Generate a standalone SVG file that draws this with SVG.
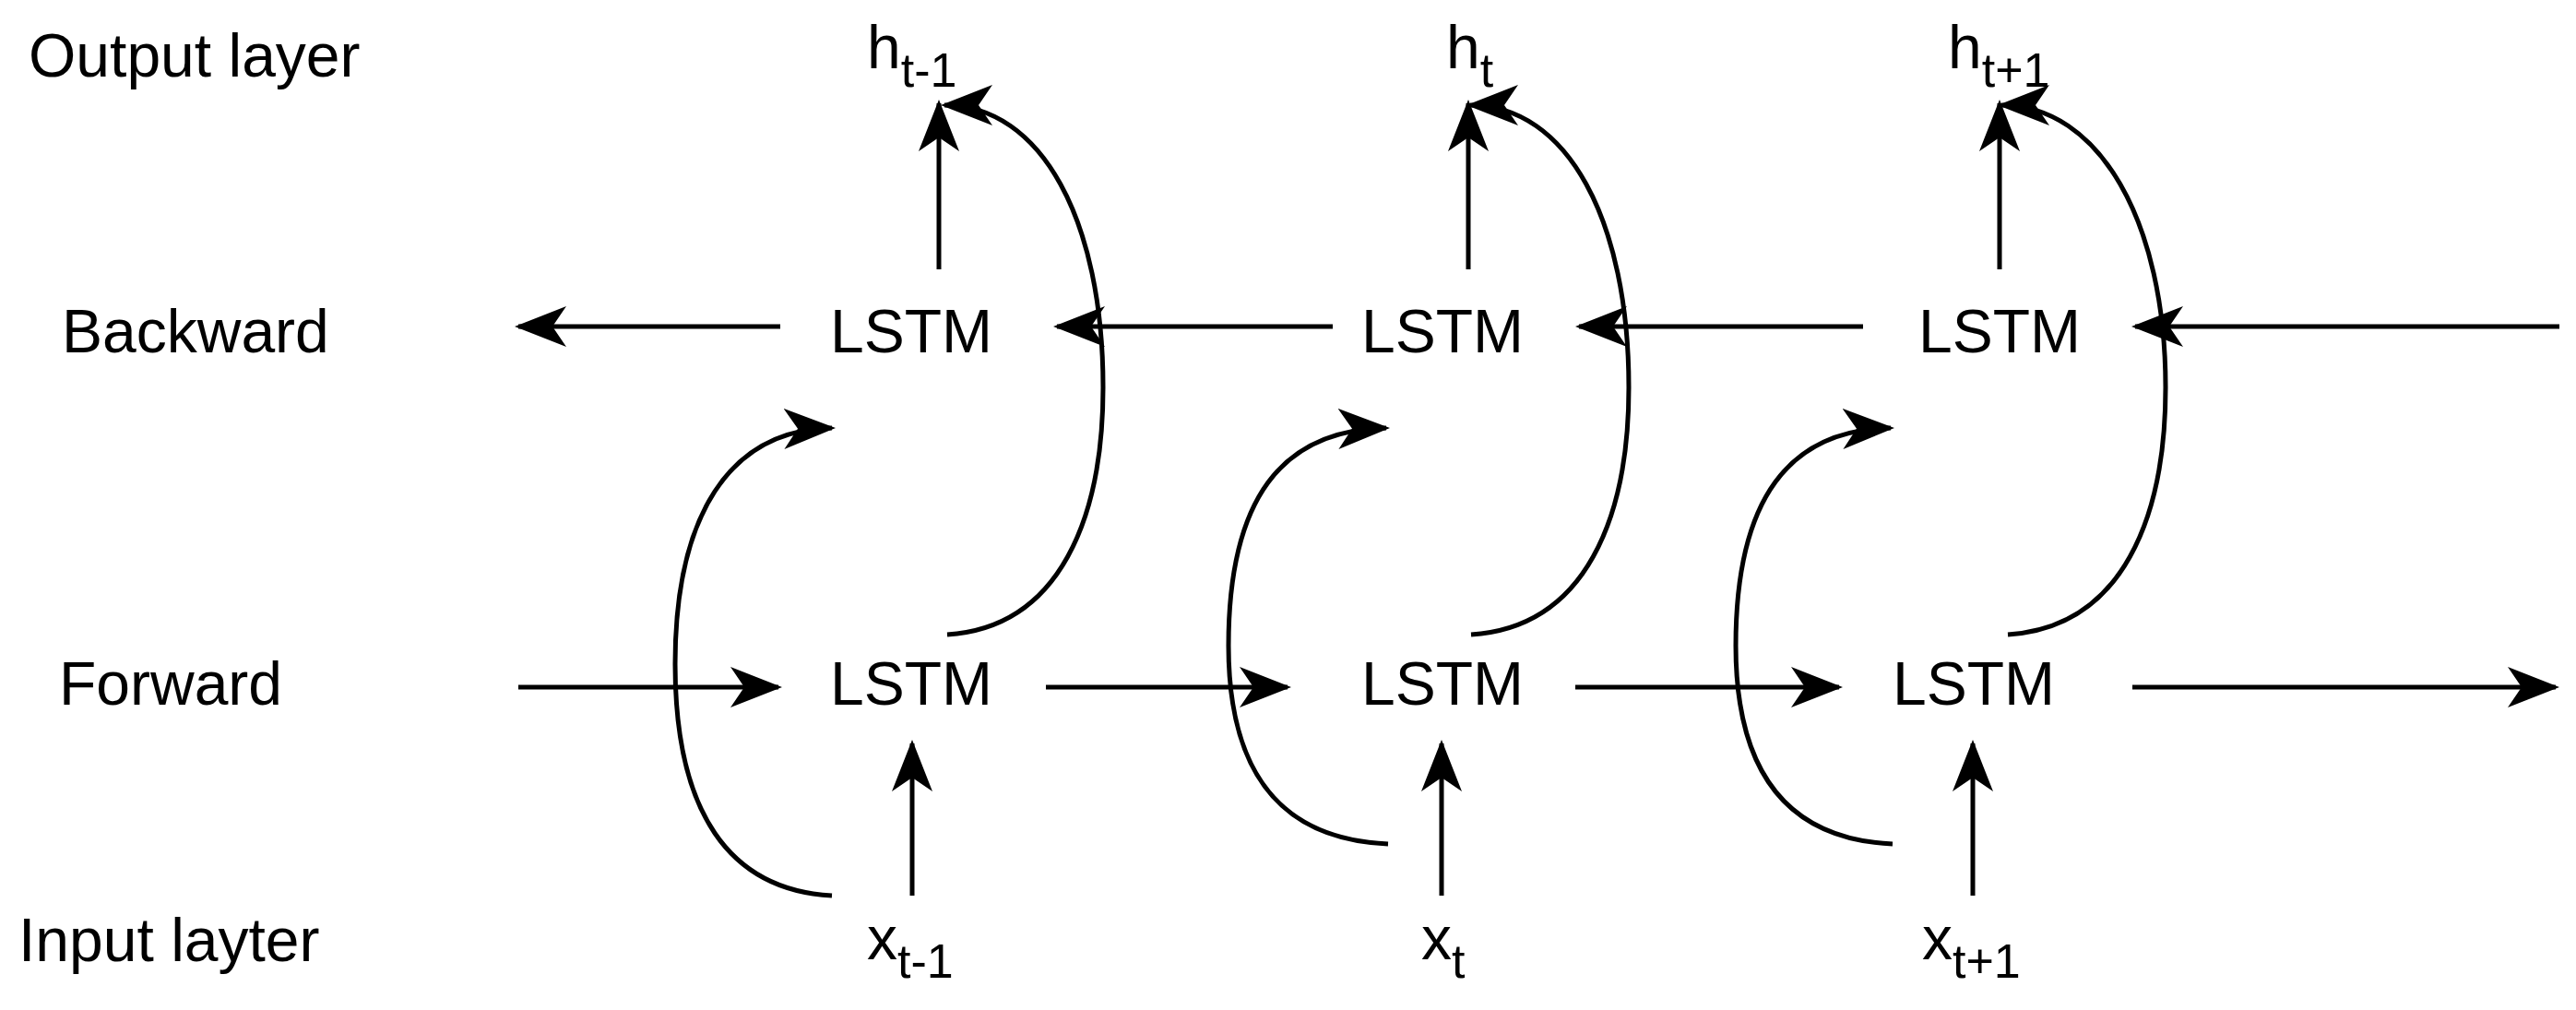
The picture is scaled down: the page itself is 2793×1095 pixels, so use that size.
<svg xmlns="http://www.w3.org/2000/svg" width="2793" height="1095" viewBox="0 0 2793 1095">
<style>
text{font-family:"Liberation Sans",Arial,sans-serif;font-size:66px;fill:#000}
.s{font-size:52px}
.c path,.c line{stroke:#000;stroke-width:5;fill:none;marker-end:url(#a)}
</style>
<defs>
<marker id="a" markerUnits="userSpaceOnUse" markerWidth="56" markerHeight="44" refX="52" refY="22" orient="auto" viewBox="0 0 56 44">
<path d="M0,0 L56,22 L0,44 L15,22 z" fill="#000"/>
</marker>
</defs>
<rect width="2793" height="1095" fill="#fff"/>
<g id="labels">
<text x="31" y="83">Output layer</text>
<text x="67" y="382">Backward</text>
<text x="64" y="764">Forward</text>
<text x="20" y="1042">Input layter</text>
</g>
<g id="h1"><text x="940" y="74">h<tspan class="s" dy="20">t-1</tspan></text></g>
<g id="h2"><text x="1568" y="74">h<tspan class="s" dy="20">t</tspan></text></g>
<g id="h3"><text x="2112" y="74">h<tspan class="s" dy="20">t+1</tspan></text></g>
<g id="b1"><text x="900" y="382">LSTM</text></g>
<g id="b2"><text x="1476" y="382">LSTM</text></g>
<g id="b3"><text x="2080" y="382">LSTM</text></g>
<g id="f1"><text x="900" y="764">LSTM</text></g>
<g id="f2"><text x="1476" y="764">LSTM</text></g>
<g id="f3"><text x="2052" y="764">LSTM</text></g>
<g id="x1"><text x="940" y="1040">x<tspan class="s" dy="20">t-1</tspan></text></g>
<g id="x2"><text x="1541" y="1040">x<tspan class="s" dy="20">t</tspan></text></g>
<g id="x3"><text x="2084" y="1040">x<tspan class="s" dy="20">t+1</tspan></text></g>
<g id="connectors" class="c">
<line x1="562" y1="745" x2="844" y2="745"/>
<line x1="1134" y1="745" x2="1396" y2="745"/>
<line x1="1708" y1="745" x2="1994" y2="745"/>
<line x1="2312" y1="745" x2="2771" y2="745"/>
<line x1="846" y1="354" x2="562" y2="354"/>
<line x1="1445" y1="354" x2="1146" y2="354"/>
<line x1="2020" y1="354" x2="1712" y2="354"/>
<line x1="2775" y1="354" x2="2315" y2="354"/>
<line x1="1018" y1="292" x2="1018" y2="112"/>
<line x1="1592" y1="292" x2="1592" y2="112"/>
<line x1="2168" y1="292" x2="2168" y2="112"/>
<line x1="989" y1="971" x2="989" y2="806"/>
<line x1="1563" y1="971" x2="1563" y2="806"/>
<line x1="2139" y1="971" x2="2139" y2="806"/>
<path d="M1027,688 C1150,680 1196,560 1196,420 C1196,240 1130,114 1024,114"/>
<path d="M1595,688 C1720,680 1766,560 1766,420 C1766,240 1700,114 1594,114"/>
<path d="M2177,688 C2302,680 2348,560 2348,420 C2348,240 2276,114 2170,114"/>
<path d="M902,971 C790,965 732,880 732,720 C732,560 790,466 902,464"/>
<path d="M1505,915 C1390,910 1332,840 1332,700 C1332,540 1390,466 1503,464"/>
<path d="M2052,915 C1940,910 1882,840 1882,700 C1882,540 1940,466 2050,464"/>
</g>
</svg>
